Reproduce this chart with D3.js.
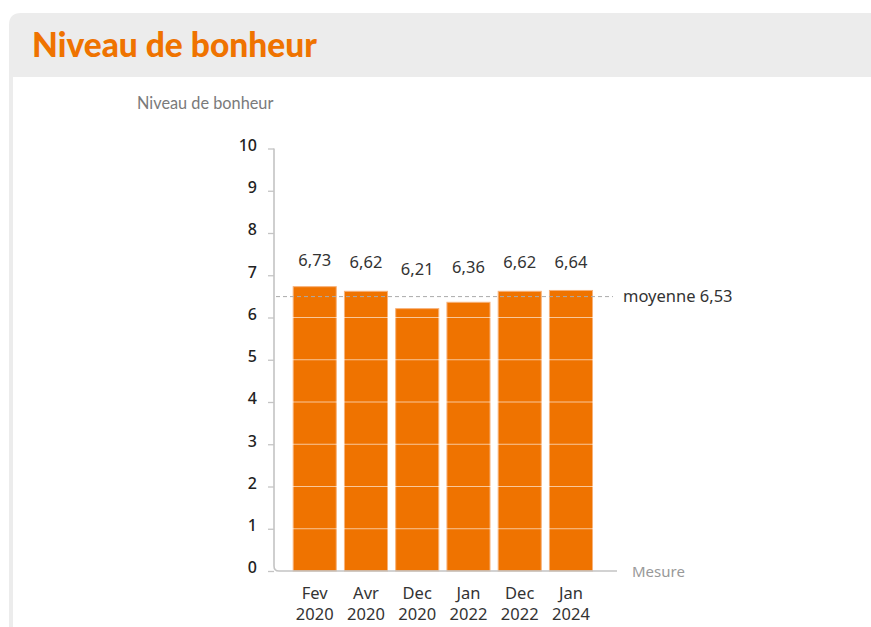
<!DOCTYPE html>
<html><head><meta charset="utf-8">
<script src="https://cdn.jsdelivr.net/npm/d3@7"></script>
<style>
html,body{margin:0;padding:0;background:#fff;}
svg{display:block;}
</style></head>
<body>
<svg id="chart" width="871" height="627"></svg>
<script>
const title = "Niveau de bonheur";
const yTitle = "Niveau de bonheur";
const xTitle = "Mesure";
const categories = ["Fev 2020","Avr 2020","Dec 2020","Jan 2022","Dec 2022","Jan 2024"];
const values = [6.73, 6.62, 6.21, 6.36, 6.62, 6.64];
const meanValue = 6.53;
const meanLabel = "moyenne 6,53";
const yTicks = [0,1,2,3,4,5,6,7,8,9,10];

const fmt = v => d3.format(".2f")(v).replace(".", ",");
const svg = d3.select("#chart");
const font = "'Noto Sans', 'Open Sans', sans-serif";

// panel
svg.append("path")
  .attr("d", "M9,627 L9,25 Q9,13 21,13 L871,13 L871,77 L13,77 L13,627 Z")
  .attr("fill", "#ececec");
svg.append("text").attr("x", 32).attr("y", 57)
  .attr("font-family", "Lato, sans-serif").attr("font-weight", 900)
  .attr("font-size", 33.5).attr("fill", "#ef7300").text(title);

const y = d3.scaleLinear().domain([0, 10]).range([571, 148.5]);
const x = d3.scaleBand().domain(categories).range([289.1, 596.6])
  .paddingInner(0.14).paddingOuter(0.07);
const axisX0 = 274, axisX1 = 617;

// y title
svg.append("text").attr("x", 137).attr("y", 109)
  .attr("font-family", "Lato, sans-serif").attr("font-size", 16.3)
  .attr("fill", "#7a7a7a").text(yTitle);

// y axis ticks + labels
const yAxis = d3.axisLeft(y).tickValues(yTicks).tickSize(6).tickPadding(11);
const gy = svg.append("g").attr("transform", `translate(${axisX0},0)`).call(yAxis);
gy.select(".domain").remove();
gy.selectAll(".tick line").attr("stroke", "#c4c4c4").attr("stroke-width", 1.3);
gy.selectAll(".tick text").attr("font-family", font).attr("font-size", 16)
  .attr("font-weight", 500).attr("dy", "0.12em").attr("fill", "#222");

// bars
svg.append("g").selectAll("rect").data(values).join("rect")
  .attr("x", (d, i) => x(categories[i]) + 0.5)
  .attr("width", x.bandwidth() - 1)
  .attr("y", d => y(d))
  .attr("height", d => y(0) - y(d))
  .attr("fill", "#ef7300")
  .attr("stroke", "#f7b27a").attr("stroke-width", 1);

// white gridlines over bars
svg.append("g").selectAll("line").data(yTicks.filter(t => t > 0)).join("line")
  .attr("x1", axisX0 + 1).attr("x2", axisX1)
  .attr("y1", d => y(d)).attr("y2", d => y(d))
  .attr("stroke", "#fff").attr("stroke-opacity", 0.6).attr("stroke-width", 1);

// axis lines with rounded corner
svg.append("path")
  .attr("d", `M${axisX0},${y(10)} L${axisX0},${y(0) - 5} Q${axisX0},${y(0)} ${axisX0 + 5},${y(0)} L${axisX1},${y(0)}`)
  .attr("fill", "none").attr("stroke", "#c4c4c4").attr("stroke-width", 1.6);

// mean line
svg.append("line").attr("x1", axisX0 + 2).attr("x2", 613)
  .attr("y1", y(meanValue) + 1.5).attr("y2", y(meanValue) + 1.5)
  .attr("stroke", "#aaa").attr("stroke-width", 1).attr("stroke-dasharray", "4,3");
svg.append("text").attr("x", 623).attr("y", y(meanValue) + 1)
  .attr("dy", "0.35em").attr("font-family", font).attr("font-size", 16.5)
  .attr("fill", "#333").text(meanLabel);

// value labels (compressed placement scale as in original)
const labelY = d3.scaleLinear().domain([6.21, 6.73]).range([269.3, 260.7]);
svg.append("g").selectAll("text").data(values).join("text")
  .attr("x", (d, i) => x(categories[i]) + x.bandwidth() / 2)
  .attr("y", d => labelY(d)).attr("dy", "0.35em")
  .attr("text-anchor", "middle").attr("font-family", font).attr("font-size", 16.5)
  .attr("fill", "#333").text(d => fmt(d));

// x labels
const gx = svg.append("g");
categories.forEach(c => {
  const parts = c.split(" ");
  const t = gx.append("text").attr("x", x(c) + x.bandwidth() / 2)
    .attr("text-anchor", "middle").attr("font-family", font)
    .attr("font-size", 16.5).attr("fill", "#333");
  t.append("tspan").attr("x", x(c) + x.bandwidth() / 2).attr("y", 599).text(parts[0]);
  t.append("tspan").attr("x", x(c) + x.bandwidth() / 2).attr("y", 620).text(parts[1]);
});

// x title
svg.append("text").attr("x", 632).attr("y", y(0) + 1).attr("dy", "0.35em")
  .attr("font-family", font).attr("font-size", 15).attr("fill", "#999").text(xTitle);
</script>
</body></html>
